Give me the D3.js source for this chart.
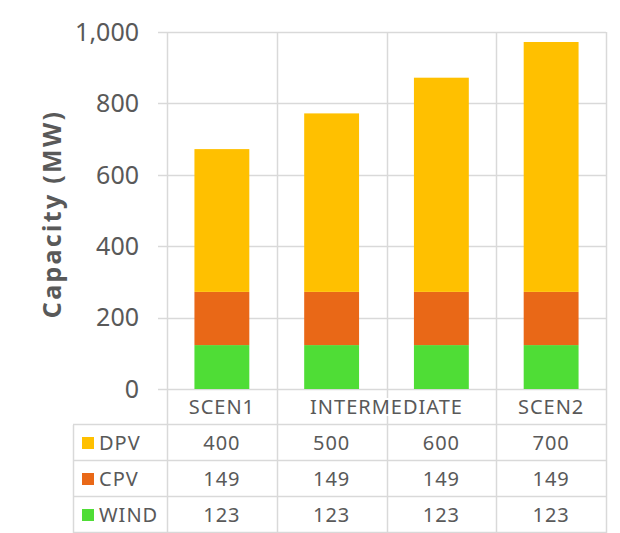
<!DOCTYPE html>
<html>
<head>
<meta charset="utf-8">
<script src="https://cdn.jsdelivr.net/npm/d3@7"></script>
<style>
  body { margin: 0; background: #fff; }
  svg text { font-family: "Noto Sans", "Open Sans", sans-serif; fill: #595959; }
  .cell { font-size: 20px; letter-spacing: 1px; }
</style>
</head>
<body>
<svg id="chart"></svg>
<script>
// category labels (equal neighbours are merged in the label row)
const categories = ["SCEN1", "INTERMEDIATE", "INTERMEDIATE", "SCEN2"];
const seriesNames = ["WIND", "CPV", "DPV"];
const wind = [123, 123, 123, 123];
const cpv = [149, 149, 149, 149];
const dpv = [400, 500, 600, 700];
const yTicks = [0, 200, 400, 600, 800, 1000];

const colors = {WIND: "#4fdd36", CPV: "#e96817", DPV: "#ffc000"};
const gridColor = "#d9d9d9";

const width = 620;
const height = 533;
const plot = {left: 167, right: 606, top: 32, bottom: 389};
const tableLeft = 73;
const labelRowH = 36;
const rowH = 36;

const svg = d3.select("#chart")
  .attr("width", width)
  .attr("height", height);

const idx = categories.map((d, i) => i);
const x = d3.scaleBand()
  .domain(idx)
  .range([plot.left, plot.right])
  .paddingInner(0)
  .paddingOuter(0);
const barW = x.bandwidth() * 0.5;

const y = d3.scaleLinear()
  .domain([0, 1000])
  .range([plot.bottom, plot.top]);

const rows = idx.map(i => ({i, WIND: wind[i], CPV: cpv[i], DPV: dpv[i]}));
const stacked = d3.stack().keys(seriesNames)(rows);

// table rows, top to bottom
const tableRows = [
  {name: "DPV", values: dpv},
  {name: "CPV", values: cpv},
  {name: "WIND", values: wind}
];
const tableTop = plot.bottom + labelRowH;
const tableBottom = tableTop + rowH * tableRows.length;

// horizontal gridlines (with tick stubs)
svg.append("g")
  .selectAll("line")
  .data(yTicks)
  .join("line")
  .attr("x1", plot.left - 9)
  .attr("x2", plot.right)
  .attr("y1", d => Math.round(y(d)) + 0.5)
  .attr("y2", d => Math.round(y(d)) + 0.5)
  .attr("stroke", gridColor)
  .attr("stroke-width", 1.5);

// bars
svg.append("g")
  .selectAll("g")
  .data(stacked)
  .join("g")
  .attr("fill", d => colors[d.key])
  .selectAll("rect")
  .data(d => d)
  .join("rect")
  .attr("x", d => x(d.data.i) + (x.bandwidth() - barW) / 2)
  .attr("width", barW)
  .attr("y", d => y(d[1]))
  .attr("height", d => y(d[0]) - y(d[1]));

// vertical lines: axis, category boundaries, right edge
const vx = idx.map(i => x(i)).concat([plot.right]);
svg.append("g")
  .selectAll("line")
  .data(vx)
  .join("line")
  .attr("x1", d => Math.round(d) + 0.5)
  .attr("x2", d => Math.round(d) + 0.5)
  .attr("y1", plot.top)
  .attr("y2", tableBottom)
  .attr("stroke", gridColor)
  .attr("stroke-width", 1.5);

// table horizontal lines and left border
const hy = d3.range(tableRows.length + 1).map(k => tableTop + k * rowH);
svg.append("g")
  .selectAll("line")
  .data(hy)
  .join("line")
  .attr("x1", tableLeft)
  .attr("x2", plot.right)
  .attr("y1", d => d - 0.5)
  .attr("y2", d => d - 0.5)
  .attr("stroke", gridColor)
  .attr("stroke-width", 1.5);
svg.append("line")
  .attr("x1", tableLeft + 0.5).attr("x2", tableLeft + 0.5)
  .attr("y1", tableTop).attr("y2", tableBottom)
  .attr("stroke", gridColor)
  .attr("stroke-width", 1.5);

// y tick labels
svg.append("g")
  .selectAll("text")
  .data(yTicks)
  .join("text")
  .attr("x", 139)
  .attr("y", d => y(d))
  .attr("dy", "0.35em")
  .attr("text-anchor", "end")
  .style("font-size", "25px")
  .text(d => d3.format(",")(d));

// y axis title
svg.append("text")
  .attr("transform", "translate(52,214) rotate(-90)")
  .attr("text-anchor", "middle")
  .attr("dy", "0.35em")
  .style("font-size", "25px")
  .style("font-weight", "bold")
  .style("letter-spacing", "2.3px")
  .text("Capacity (MW)");

// category label row, merging equal neighbours
const groups = [];
categories.forEach((c, i) => {
  const last = groups[groups.length - 1];
  if (last && last.label === c) last.end = i;
  else groups.push({label: c, start: i, end: i});
});
svg.append("g")
  .selectAll("text")
  .data(groups)
  .join("text")
  .attr("class", "cell")
  .attr("x", d => (x(d.start) + x(d.end) + x.bandwidth()) / 2)
  .attr("y", plot.bottom + labelRowH / 2)
  .attr("dy", "0.35em")
  .attr("text-anchor", "middle")
  .style("paint-order", "stroke")
  .attr("stroke", "#fff")
  .attr("stroke-width", 4)
  .text(d => d.label);

// table body
const tr = svg.append("g")
  .selectAll("g")
  .data(tableRows)
  .join("g")
  .attr("transform", (d, k) => `translate(0,${tableTop + k * rowH + rowH / 2})`);

tr.append("rect")
  .attr("x", 82)
  .attr("y", -6)
  .attr("width", 12)
  .attr("height", 12)
  .attr("fill", d => colors[d.name]);

tr.append("text")
  .attr("class", "cell")
  .attr("x", 99)
  .attr("dy", "0.35em")
  .text(d => d.name);

tr.selectAll("text.v")
  .data(d => d.values)
  .join("text")
  .attr("class", "cell v")
  .attr("x", (v, i) => x(i) + x.bandwidth() / 2)
  .attr("dy", "0.35em")
  .attr("text-anchor", "middle")
  .text(v => v);
</script>
</body>
</html>
